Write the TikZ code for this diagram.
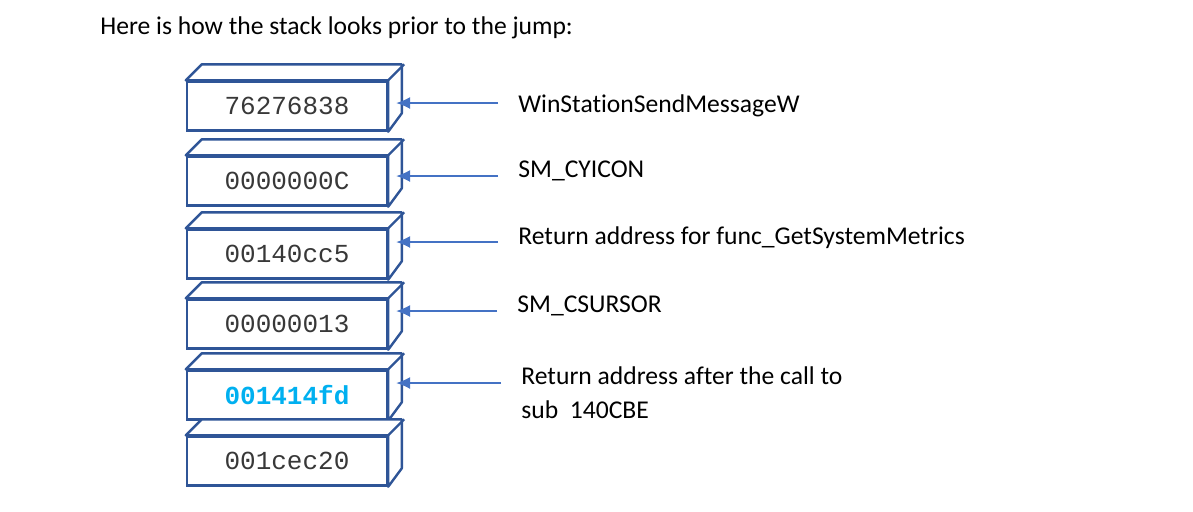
\documentclass[tikz,border=0pt]{standalone}
\usepackage{fontspec}
\setmainfont{Carlito}[Ligatures={NoCommon}]
\setmonofont{Liberation Mono}
\usetikzlibrary{arrows.meta,positioning}
\definecolor{boxblue}{HTML}{2F5597}
\definecolor{arrowblue}{HTML}{4472C4}
\definecolor{hilite}{HTML}{00B0F0}
\tikzset{
    slot/.style={draw=boxblue, line width=1.2pt, fill=white, minimum width=100pt,
        minimum height=24.5pt, inner sep=0pt, text=black!78,
        font=\ttfamily\fontsize{13}{15}\selectfont},
    hotslot/.style={slot, text=hilite, font=\ttfamily\bfseries\fontsize{13}{15}\selectfont},
    ptr/.style={-{Latex[length=7pt,width=6pt]}, arrowblue, line width=0.6pt, shorten >=14pt},
    note/.style={anchor=west, inner sep=0pt, align=left,
        font=\fontsize{12.8}{17}\selectfont}
}
\begin{document}
\begin{tikzpicture}[x=0.5pt, y=-0.5pt]
    \useasboundingbox (0,0) rectangle (1193,511);

    % Title
    \node[note] (title) at (100,28) {Here is how the stack looks prior to the jump:};

    % Stack slots (front face as node, top and side faces drawn after)
    \foreach \v/\y/\s [count=\i] in {76276838/106/slot, 0000000C/181/slot,
        00140cc5/254/slot, 00000013/324/slot, 001414fd/395/hotslot, 001cec20/461/slot} {
        \node[\s] (s\i) at (287,\y) {\v};
        \draw[boxblue, line width=1.2pt, fill=white, line join=round]
            (s\i.north west) -- ++(16,-16) -- ++(200,0) -- ++(0,49)
            -- (s\i.south east) -- (s\i.north east) -- cycle;
        \draw[boxblue, line width=1.2pt] (s\i.north east) -- ++(16,-16);
    }

    % Descriptions
    \node[note] (l1) at (518,106) {WinStationSendMessageW};
    \node[note] (l2) at (518,171) {SM\_CYICON};
    \node[note] (l3) at (518,238) {Return address for func\_GetSystemMetrics};
    \node[note] (l4) at (517,306) {SM\_CSURSOR};
    \node[note] (l5) at (521,393) {Return address after the call to\\sub\ \ 140CBE};

    % Pointers to the slots
    \foreach \i/\dy in {1/-3, 2/5, 3/4, 4/5, 5/-10}
        \draw[ptr] ([shift={(-20,\dy)}]l\i.west) -- ([shift={(-20,\dy)}]l\i.west -| s\i.east);
\end{tikzpicture}
\end{document}
